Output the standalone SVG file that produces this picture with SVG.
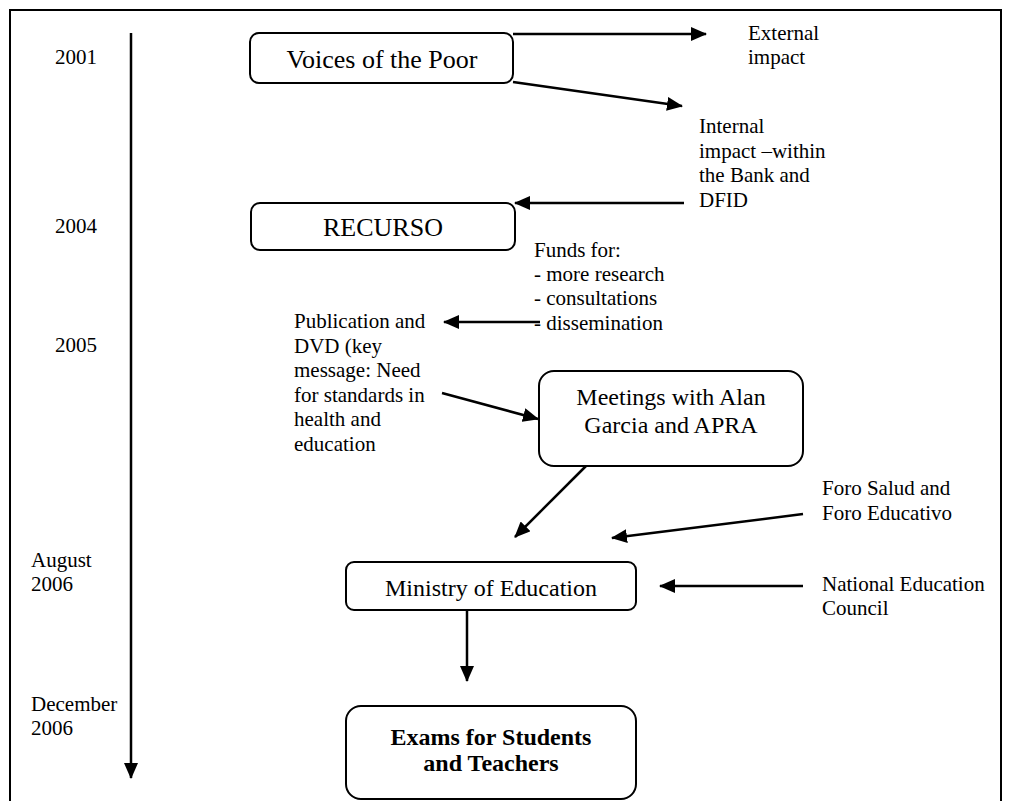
<svg xmlns="http://www.w3.org/2000/svg" width="1009" height="801" viewBox="0 0 1009 801">
<defs>
<marker id="ah" markerUnits="userSpaceOnUse" markerWidth="16" markerHeight="14" refX="15" refY="7" orient="auto">
<path d="M0,0 L16,7 L0,14 Z" fill="#000"/>
</marker>
<style>
text{font-family:"Liberation Serif","Times New Roman",serif;fill:#000}
.s{font-size:21px}
.b{font-size:26px}
.m{font-size:24px}
.box{fill:#fff;stroke:#000;stroke-width:2}
.c{stroke:#000;stroke-width:2.5;fill:none;marker-end:url(#ah)}
.fr{stroke:#000;stroke-width:2;fill:none}
</style>
</defs>
<rect width="1009" height="801" fill="#fff"/>
<g id="frame">
<path class="fr" d="M10,801 V10 H1001 V801"/>
</g>
<g id="timeline">
<line class="c" x1="131" y1="33" x2="131" y2="778"/>
<text class="s" x="55" y="64">2001</text>
<text class="s" x="55" y="233">2004</text>
<text class="s" x="55" y="352">2005</text>
<text class="s" x="31" y="567">August</text>
<text class="s" x="31" y="591">2006</text>
<text class="s" x="31" y="711">December</text>
<text class="s" x="31" y="735">2006</text>
</g>
<g id="connectors">
<line class="c" x1="513" y1="34" x2="706" y2="34"/>
<line class="c" x1="513" y1="82" x2="682" y2="106"/>
<line class="c" x1="684" y1="203" x2="515" y2="203"/>
<line class="c" x1="540" y1="322" x2="444" y2="322"/>
<line class="c" x1="442" y1="393" x2="538" y2="419"/>
<line class="c" x1="587" y1="465" x2="515" y2="537"/>
<line class="c" x1="803" y1="514" x2="612" y2="538"/>
<line class="c" x1="803" y1="586" x2="660" y2="586"/>
<line class="c" x1="467" y1="611" x2="467" y2="681"/>
</g>
<g id="voices">
<rect class="box" x="250" y="33" width="263" height="50" rx="9"/>
<text class="b" x="382" y="68" text-anchor="middle">Voices of the Poor</text>
</g>
<g id="external">
<text class="s" x="748" y="40">External</text>
<text class="s" x="748" y="64">impact</text>
</g>
<g id="internal">
<text class="s" x="699" y="133">Internal</text>
<text class="s" x="699" y="158">impact –within</text>
<text class="s" x="699" y="182">the Bank and</text>
<text class="s" x="699" y="207">DFID</text>
</g>
<g id="recurso">
<rect class="box" x="251" y="203" width="264" height="47" rx="9"/>
<text class="b" x="383" y="236" text-anchor="middle">RECURSO</text>
</g>
<g id="funds">
<text class="s" x="534" y="257">Funds for:</text>
<text class="s" x="534" y="281">- more research</text>
<text class="s" x="534" y="305">- consultations</text>
<text class="s" x="534" y="330">- dissemination</text>
</g>
<g id="publication">
<text class="s" x="294" y="328">Publication and</text>
<text class="s" x="294" y="353">DVD (key</text>
<text class="s" x="294" y="377">message: Need</text>
<text class="s" x="294" y="402">for standards in</text>
<text class="s" x="294" y="426">health and</text>
<text class="s" x="294" y="451">education</text>
</g>
<g id="meetings">
<rect class="box" x="539" y="371" width="264" height="95" rx="15"/>
<text class="m" x="671" y="405" text-anchor="middle">Meetings with Alan</text>
<text class="m" x="671" y="433" text-anchor="middle">Garcia and APRA</text>
</g>
<g id="foro">
<text class="s" x="822" y="495">Foro Salud and</text>
<text class="s" x="822" y="520">Foro Educativo</text>
</g>
<g id="ministry">
<rect class="box" x="346" y="562" width="290" height="48" rx="8"/>
<text class="m" x="491" y="596" text-anchor="middle">Ministry of Education</text>
</g>
<g id="council">
<text class="s" x="822" y="591">National Education</text>
<text class="s" x="822" y="615">Council</text>
</g>
<g id="exams">
<rect class="box" x="346" y="706" width="290" height="93" rx="15"/>
<text class="m" x="491" y="745" text-anchor="middle" font-weight="bold">Exams for Students</text>
<text class="m" x="491" y="771" text-anchor="middle" font-weight="bold">and Teachers</text>
</g>
</svg>
